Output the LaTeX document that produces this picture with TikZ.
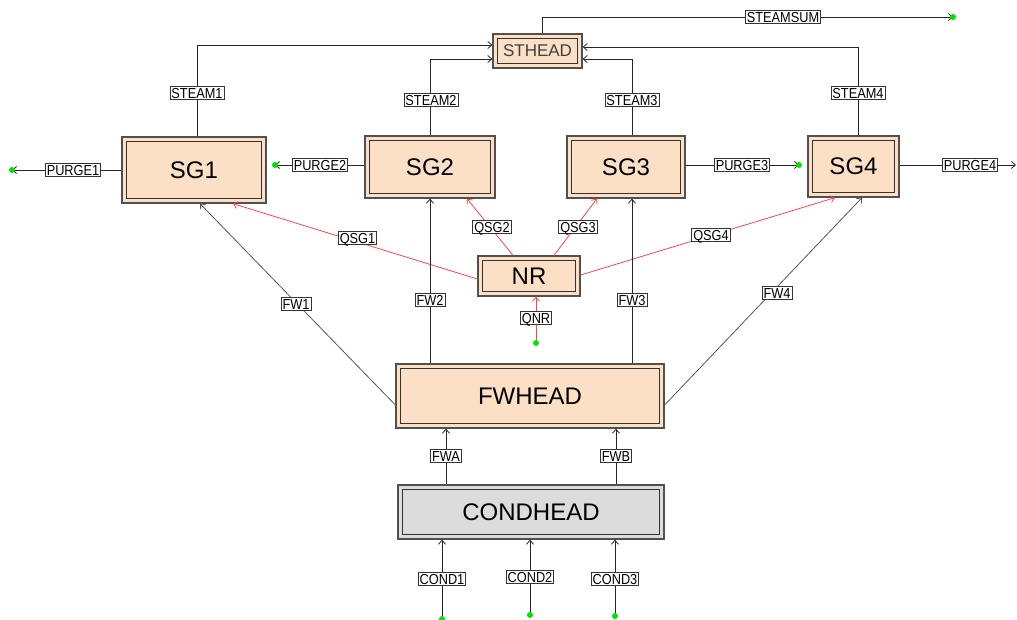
\documentclass[tikz,border=0pt]{standalone}
\usepackage{fontspec}
\setmainfont{Liberation Sans}
\newfontfamily\lblfont[FakeStretch=0.88]{Liberation Sans}
\usetikzlibrary{arrows.meta}
\definecolor{peach}{RGB}{252,224,198}
\definecolor{condgray}{RGB}{220,220,220}
\definecolor{boxline}{RGB}{80,80,80}
\definecolor{flowred}{RGB}{255,70,70}
\definecolor{flowgray}{RGB}{85,85,85}
\definecolor{srcgreen}{RGB}{0,230,0}
\tikzset{
  unit/.style={draw=boxline, line width=1.3pt, fill=peach, inner sep=0pt, font=\fontsize{24}{26}\selectfont},
  lbl/.style={draw=black!80, line width=0.9pt, fill=white, inner xsep=1.5pt, inner ysep=1.5pt, font=\lblfont\fontsize{14.5}{15}\selectfont, text height=10.5pt, text depth=0.3pt},
  flow/.style={draw=black!85, line width=0.8pt, -{Straight Barb[length=4pt,width=7pt]}},
  gflow/.style={flow, draw=flowgray},
  rflow/.style={draw=flowred, line width=0.8pt, -{Straight Barb[length=4pt,width=7pt]}},
  dot/.style={circle, fill=srcgreen, inner sep=0pt, minimum size=6pt}
}
\newcommand{\innerbox}[1]{\draw[black!80, line width=1.2pt] ([shift={(5pt,-5pt)}]#1.north west) rectangle ([shift={(-5pt,5pt)}]#1.south east);}
\begin{document}
\begin{tikzpicture}[x=1pt, y=-1pt]
\useasboundingbox (0,0) rectangle (1017,619);
% units
\node[unit, minimum width=89pt, minimum height=34pt, font=\fontsize{17}{18}\selectfont, text=black!75] (sthead) at (537.5,51) {STHEAD};
\node[unit, minimum width=144pt, minimum height=66pt] (sg1) at (194,170) {SG1};
\node[unit, minimum width=130pt, minimum height=62pt] (sg2) at (430,167) {SG2};
\node[unit, minimum width=118pt, minimum height=62pt] (sg3) at (626,167) {SG3};
\node[unit, minimum width=91pt, minimum height=61pt] (sg4) at (853.5,166.5) {SG4};
\node[unit, minimum width=102pt, minimum height=40pt] (nr) at (529,276) {NR};
\node[unit, minimum width=268pt, minimum height=64pt] (fwhead) at (530,396) {FWHEAD};
\node[unit, fill=condgray, minimum width=266pt, minimum height=54pt] (condhead) at (531,512) {CONDHEAD};
\innerbox{sthead}\innerbox{sg1}\innerbox{sg2}\innerbox{sg3}\innerbox{sg4}\innerbox{nr}\innerbox{fwhead}\innerbox{condhead}
% free ends
\coordinate (steamsumend) at (953,17);
\coordinate (purge1end) at (12,170);
\coordinate (purge2end) at (275,165);
\coordinate (purge3end) at (799,165);
\coordinate (purge4end) at (1016,165);
\coordinate (qnrsrc) at (536,343);
\coordinate (cond1src) at (442,619);
\coordinate (cond2src) at (530,615);
\coordinate (cond3src) at (615,616);
% steam connectors
\draw[flow] ([xshift=3pt]sg1.north) |- ([yshift=6pt]sthead.west);
\draw[flow] (sg2.north) |- ([yshift=-8pt]sthead.west);
\draw[flow] ([xshift=6pt]sg3.north) |- ([yshift=-8pt]sthead.east);
\draw[flow] ([xshift=4.5pt]sg4.north) |- ([yshift=4pt]sthead.east);
\draw[flow] ([xshift=4.5pt]sthead.north) |- (steamsumend);
% purges
\draw[flow] (sg1.west) -- (purge1end);
\draw[flow] ([yshift=2pt]sg2.west) -- (purge2end);
\draw[flow] ([yshift=2pt]sg3.east) -- (purge3end);
\draw[flow] ([yshift=1.5pt]sg4.east) -- (purge4end);
% heat
\draw[rflow] (qnrsrc) -- (nr.south -| qnrsrc);
\draw[rflow] ([yshift=-3pt]nr.west) -- ([xshift=39pt]sg1.south);
\draw[rflow] ([xshift=-16pt]nr.north) -- ([xshift=37pt]sg2.south);
\draw[rflow] ([xshift=25pt]nr.north) -- ([xshift=-29pt]sg3.south);
\draw[rflow] ([yshift=1pt]nr.east) -- ([xshift=-18.5pt]sg4.south);
% feedwater
\draw[gflow] ([yshift=-9pt]fwhead.west) -- ([xshift=6pt]sg1.south);
\draw[flow] (fwhead.north -| sg2.south) -- (sg2.south);
\draw[flow] ([xshift=6pt]fwhead.north -| sg3.south) -- ([xshift=6pt]sg3.south);
\draw[gflow] ([yshift=-9pt]fwhead.east) -- ([xshift=8.5pt]sg4.south);
\draw[flow] ([xshift=-85pt]condhead.north) -- ([xshift=-84pt]fwhead.south);
\draw[flow] ([xshift=85pt]condhead.north) -- ([xshift=86pt]fwhead.south);
\draw[flow] (cond1src) -- (condhead.south -| cond1src);
\draw[flow] (cond2src) -- (condhead.south -| cond2src);
\draw[flow] (cond3src) -- (condhead.south -| cond3src);
% dots
\node[dot] (d1) at (steamsumend) {};
\node[dot] (d2) at (purge1end) {};
\node[dot] (d3) at (purge2end) {};
\node[dot] (d4) at (purge3end) {};
\node[dot] (d5) at (qnrsrc) {};
\node[dot] (d6) at (cond1src) {};
\node[dot] (d7) at (cond2src) {};
\node[dot] (d8) at (cond3src) {};
% labels
\node[lbl] (lsteamsum) at (783,17) {STEAMSUM};
\node[lbl] (lsteam1) at (197,93) {STEAM1};
\node[lbl] (lsteam2) at (431,100) {STEAM2};
\node[lbl] (lsteam3) at (632,100) {STEAM3};
\node[lbl] (lsteam4) at (858,93) {STEAM4};
\node[lbl] (lpurge1) at (73,170) {PURGE1};
\node[lbl] (lpurge2) at (320,165) {PURGE2};
\node[lbl] (lpurge3) at (742,165) {PURGE3};
\node[lbl] (lpurge4) at (970,165) {PURGE4};
\node[lbl] (lqsg1) at (357.5,238) {QSG1};
\node[lbl] (lqsg2) at (492,227) {QSG2};
\node[lbl] (lqsg3) at (578,227) {QSG3};
\node[lbl] (lqsg4) at (711,235) {QSG4};
\node[lbl] (lqnr) at (536,318) {QNR};
\node[lbl] (lfw1) at (296,304) {FW1};
\node[lbl] (lfw2) at (430,300) {FW2};
\node[lbl] (lfw3) at (632,300) {FW3};
\node[lbl] (lfw4) at (777,293) {FW4};
\node[lbl] (lfwa) at (446,456) {FWA};
\node[lbl] (lfwb) at (616,456) {FWB};
\node[lbl] (lcond1) at (442,579) {COND1};
\node[lbl] (lcond2) at (530,577) {COND2};
\node[lbl] (lcond3) at (615,579) {COND3};
\end{tikzpicture}
\end{document}
